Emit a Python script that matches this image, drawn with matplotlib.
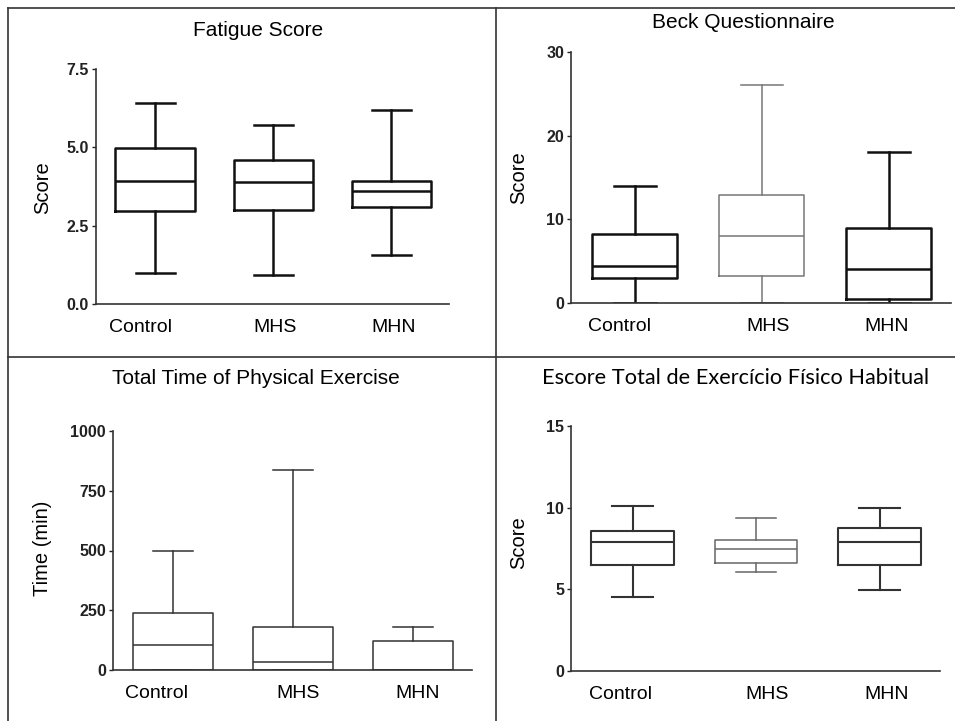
import matplotlib
matplotlib.use("Agg")
import matplotlib.pyplot as plt
from matplotlib.lines import Line2D

plt.rcParams['font.family'] = ['Liberation Sans', 'DejaVu Sans']

groups = ["Control", "MHS", "MHN"]

# whisker low, Q1, median, Q3, whisker high
fatigue_lo = [0.98, 0.94, 1.57]
fatigue_q1 = [2.96, 3.01, 3.09]
fatigue_med = [3.93, 3.88, 3.62]
fatigue_q3 = [4.99, 4.59, 3.93]
fatigue_hi = [6.40, 5.71, 6.18]

beck_lo = [0.0, 0.0, 0.0]
beck_q1 = [2.98, 3.2, 0.45]
beck_med = [4.45, 8.0, 4.05]
beck_q3 = [8.22, 12.95, 8.95]
beck_hi = [14.0, 26.0, 18.0]

time_lo = [0, 0, 0]
time_q1 = [0, 0, 0]
time_med = [105, 32, 0]
time_q3 = [240, 178, 120]
time_hi = [500, 837, 178]

escore_lo = [4.54, 6.05, 4.93]
escore_q1 = [6.46, 6.6, 6.52]
escore_med = [7.87, 7.5, 7.87]
escore_q3 = [8.6, 8.01, 8.75]
escore_hi = [10.12, 9.36, 9.95]

W, H = 955, 721
fig = plt.figure(figsize=(W / 100, H / 100), dpi=100)


def px_axes(left, right, top, bottom):
    return fig.add_axes([left / W, (H - bottom) / H, (right - left) / W, (bottom - top) / H])


def panel(ax, lo, q1, med, q3, hi, ylim, yticks, ylabels, label_pos, colors, lws):
    for i in range(len(groups)):
        st = [dict(whislo=lo[i], q1=q1[i], med=med[i], q3=q3[i], whishi=hi[i], fliers=[])]
        props = dict(color=colors[i], linewidth=lws[i])
        ax.bxp(st, positions=[i + 1], widths=0.67, capwidths=0.33,
               boxprops=props, whiskerprops=props, capprops=props,
               medianprops=props, showfliers=False, manage_ticks=False)
    ax.set_xlim(0.5, 3.49)
    ax.set_ylim(*ylim)
    ax.set_yticks(yticks)
    ax.set_yticklabels(ylabels, fontsize=11.5, fontweight="bold")
    ax.set_xticks(label_pos)
    ax.set_xticklabels(groups, fontsize=14)
    ax.tick_params(axis="x", length=0, pad=11)
    ax.tick_params(axis="y", length=3, width=1, pad=2, colors="#222")
    for s in ["top", "right"]:
        ax.spines[s].set_visible(False)
    for s in ["left", "bottom"]:
        ax.spines[s].set_linewidth(1.2)
        ax.spines[s].set_color("#333")
    ax.patch.set_alpha(0)


ax1 = px_axes(96, 449, 69, 304)
panel(ax1, fatigue_lo, fatigue_q1, fatigue_med, fatigue_q3, fatigue_hi,
      (0, 7.5), [0, 2.5, 5.0, 7.5], ["0.0", "2.5", "5.0", "7.5"],
      [0.88, 2.02, 3.02], ["#111"] * 3, [1.8] * 3)

ax2 = px_axes(571, 951, 52, 303)
panel(ax2, beck_lo, beck_q1, beck_med, beck_q3, beck_hi,
      (0, 30), [0, 10, 20, 30], ["0", "10", "20", "30"],
      [0.88, 2.05, 2.98], ["#111", "#777", "#111"], [1.8, 1.1, 1.8])

ax3 = px_axes(113, 472, 431, 670)
panel(ax3, time_lo, time_q1, time_med, time_q3, time_hi,
      (0, 1000), [0, 250, 500, 750, 1000], ["0", "250", "500", "750", "1000"],
      [0.86, 2.04, 3.04], ["#333"] * 3, [1.1] * 3)

ax4 = px_axes(571, 940, 426, 671)
panel(ax4, escore_lo, escore_q1, escore_med, escore_q3, escore_hi,
      (0, 15), [0, 5, 10, 15], ["0", "5", "10", "15"],
      [0.9, 2.09, 3.06], ["#333", "#666", "#333"], [1.5, 1.1, 1.5])

# titles and y labels at pixel positions
fig.text(258 / W, 1 - 31 / H, "Fatigue Score", ha="center", va="center", fontsize=15)
fig.text(743 / W, 1 - 23 / H, "Beck Questionnaire", ha="center", va="center", fontsize=15)
fig.text(256 / W, 1 - 378 / H, "Total Time of Physical Exercise", ha="center", va="center", fontsize=15)
fig.text(736 / W, 1 - 378 / H, "Escore Total de Exercício Físico Habitual", ha="center", va="center",
         fontsize=15.7, family=["Lato", "DejaVu Sans"])

fig.text(43 / W, 1 - 188 / H, "Score", rotation=90, ha="center", va="center", fontsize=14.5)
fig.text(519 / W, 1 - 178 / H, "Score", rotation=90, ha="center", va="center", fontsize=14.5)
fig.text(43 / W, 1 - 548 / H, "Time (min)", rotation=90, ha="center", va="center", fontsize=14.5)
fig.text(519 / W, 1 - 543 / H, "Score", rotation=90, ha="center", va="center", fontsize=14.5)

# table grid lines around the panels
grid = dict(color="#333", linewidth=1.2, transform=fig.transFigure)
fig.add_artist(Line2D([8 / W, 8 / W], [0, 1 - 8 / H], **grid))
fig.add_artist(Line2D([496 / W, 496 / W], [0, 1 - 8 / H], **grid))
fig.add_artist(Line2D([8 / W, 1], [1 - 8 / H, 1 - 8 / H], **grid))
fig.add_artist(Line2D([8 / W, 1], [1 - 357 / H, 1 - 357 / H], **grid))

fig.savefig("out.png", dpi=100)
plt.close(fig)
